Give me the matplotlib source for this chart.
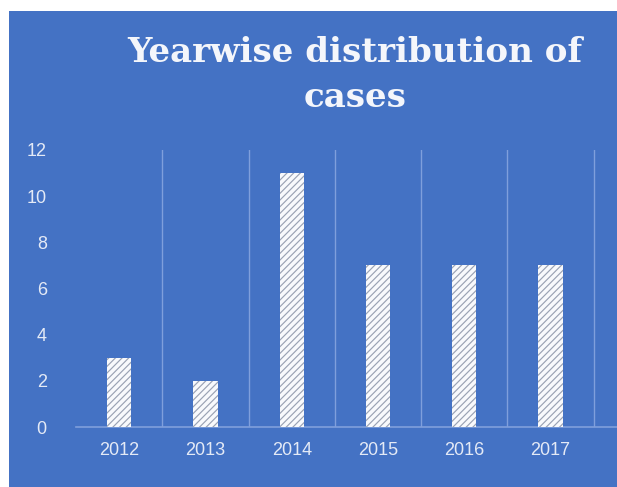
import numpy as np
import matplotlib
matplotlib.use("Agg")
import matplotlib.pyplot as plt
from matplotlib.patches import Rectangle

# data
years = ["2012", "2013", "2014", "2015", "2016", "2017"]
cases = [3, 2, 11, 7, 7, 7]
yticks = [0, 2, 4, 6, 8, 10, 12]

bg = "#4472c4"
grid_col = "#7f9fdc"
txt_col = "#e4eaf6"

plt.rcParams["hatch.linewidth"] = 0.85
plt.rcParams["hatch.color"] = "#9aa2b4"

W, H = 617, 487
fig = plt.figure(figsize=(W / 100, H / 100), dpi=100)
fig.patch.set_facecolor("white")
# blue panel, small white border on top and left
fig.patches.append(Rectangle((9 / W, 0), 1, 1 - 11 / H, transform=fig.transFigure,
                             facecolor=bg, edgecolor="none", zorder=-5))

ax = fig.add_axes([76 / W, 1 - 427 / H, 1 - 76 / W, (427 - 150) / H])
ax.set_facecolor("none")
ax.set_zorder(2)

x = np.arange(len(years))
ax.bar(x, cases, width=0.28, color="#f8f9fc", edgecolor="#9aa2b4", linewidth=0,
       hatch="/////", zorder=3)

ax.set_xlim(-0.5, 5.77)
ax.set_ylim(0, 12)
ax.set_xticks(x)
ax.set_xticklabels(years)
ax.set_yticks(yticks)
ax.set_xticks(np.arange(len(years)) + 0.5, minor=True)
ax.grid(True, which="minor", axis="x", color=grid_col, linewidth=1.0, zorder=1)
ax.grid(False, which="major")
ax.tick_params(axis="both", which="both", length=0, colors=txt_col, labelsize=13)
for lab in ax.get_xticklabels() + ax.get_yticklabels():
    lab.set_family("Liberation Sans")
ax.tick_params(axis="y", pad=21)
ax.tick_params(axis="x", pad=11)
for s in ["top", "right", "left"]:
    ax.spines[s].set_visible(False)
ax.spines["bottom"].set_color(grid_col)
ax.spines["bottom"].set_linewidth(1.2)

title_kw = dict(ha="center", va="baseline", fontweight="bold",
                family="DejaVu Serif", color="#f4f6fb")
t1 = fig.text(355 / W, 1 - 62 / H, "Yearwise distribution of", fontsize=22, **title_kw)
t2 = fig.text(355 / W, 1 - 107 / H, "cases", fontsize=22, **title_kw)
# scale title so the first line spans about 455 px like the reference
r = fig.canvas.get_renderer()
w = t1.get_window_extent(r).width
fs = 22 * 455 / w
t1.set_fontsize(fs)
t2.set_fontsize(fs)

fig.savefig("out.png", dpi=100, facecolor=fig.get_facecolor())
